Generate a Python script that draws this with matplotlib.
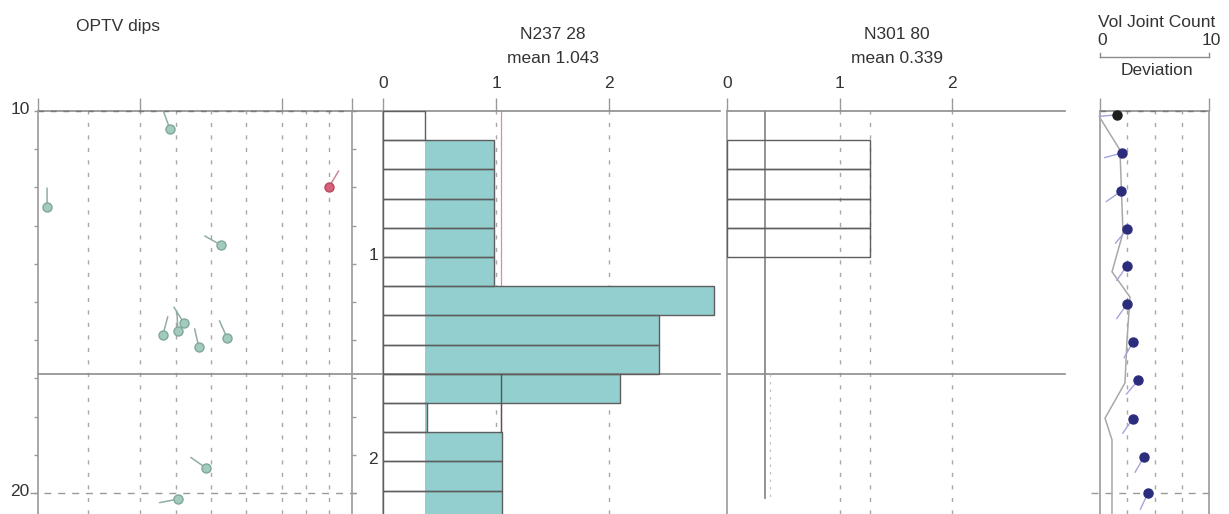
import numpy as np
import matplotlib
matplotlib.use("Agg")
import matplotlib.pyplot as plt
import matplotlib.transforms as mtrans

plt.rcParams["font.family"] = ["Liberation Sans", "DejaVu Sans"]

W, H, DPI = 1229, 514, 100

# ---------------- data ----------------
depth_top = 10.0
depth_bottom = 20.55
depth_ticks = list(range(10, 21))
depth_labels = ["10"] + [""] * 9 + ["20"]

# OPTV dips (tadpoles)
dip_depths = [10.47, 12.51, 11.99, 13.51, 15.86, 15.76, 15.55, 16.18, 15.94, 19.35, 20.16]
dip_angles = [37.8, 2.6, 83.4, 52.5, 35.8, 40.1, 41.8, 46.1, 54.2, 48.2, 40.1]
dip_azimuths = [340, 0, 31, 299, 15, 357, 328, 347, 336, 305, 259]
dip_sets = ["A", "A", "B", "A", "A", "A", "A", "A", "A", "A", "A"]
dip_grid = [14.3, 29.2, 39.6, 49.6, 59.6, 69.9, 76.8, 83.4]
dip_top_ticks = [0, 29.2, 69.9, 90]

# histogram bins
bin_start = 10.0
bin_width = 0.7644
n237_values = [0.37, 0.98, 0.98, 0.98, 0.98, 0.98, 2.93, 2.44, 2.44, 2.10, 0.39, 1.05, 1.05, 1.05]
n237_mean = 1.043
n237_floor = 0.37
n301_values = [0.0, 1.27, 1.27, 1.27, 1.27, 0, 0, 0, 0, 0, 0, 0, 0, 0]
n301_mean = 0.339
n301_max = 1.27
n301_mean_end = 20.13
hist_ticks = [0, 1, 2]
bin_label_edges = [5, 12]
bin_label_text = ["1", "2"]
zone_edge = 9

# Vol joint count / deviation
joint_depths = [10.1, 11.1, 12.1, 13.1, 14.05, 15.05, 16.05, 17.05, 18.05, 19.05, 20.0]
joint_counts = [1.56, 2.0, 1.93, 2.48, 2.48, 2.48, 3.03, 3.49, 3.03, 4.04, 4.4]
joint_azimuths = [265, 255, 235, 220, 215, 215, 210, 220, 215, 210, 205]
dev_depths = [10.18, 11.02, 13.19, 14.21, 14.87, 15.99, 17.12, 18.04, 18.61, 20.55]
dev_values = [0.0, 1.83, 2.11, 1.10, 2.75, 2.48, 2.29, 0.46, 1.10, 1.10]
joint_grid = [2.5, 5, 7.5]

# ---------------- styles ----------------
TXT = "#333333"
SPINE = "#9a9a9a"
HLINE = "#8c8c8c"
GRID = "#a8a8a8"
FILL = "#93cfcf"
EDGE = "#5e5e5e"
DASH = (0, (3, 6))
FS = 12.5

fig = plt.figure(figsize=(W / DPI, H / DPI), dpi=DPI)
fig.patch.set_facecolor("white")

TOP_PX = 111


def px_axes(x0, x1):
    ax = fig.add_axes([x0 / W, 0, (x1 - x0) / W, (H - TOP_PX) / H])
    ax.set_facecolor("none")
    ax.set_ylim(depth_bottom, depth_top)
    for s in ax.spines.values():
        s.set_visible(False)
    ax.tick_params(axis="both", colors=SPINE, labelcolor=TXT, labelsize=FS)
    return ax


def up_shift(labels, px):
    for lab in labels:
        lab.set_transform(lab.get_transform() + mtrans.ScaledTranslation(0, px / DPI, fig.dpi_scale_trans))


edges = bin_start + bin_width * np.arange(len(n237_values) + 1)
centers = edges[:-1] + bin_width / 2
zone_depth = edges[zone_edge]

# ---------------- panel 1: OPTV dips ----------------
ax1 = px_axes(38, 352)
ax1.set_xlim(0, 90)
for sp in ("left", "right"):
    ax1.spines[sp].set_visible(True)
    ax1.spines[sp].set_color(SPINE)
    ax1.spines[sp].set_linewidth(1.2)
ax1.set_yticks(depth_ticks)
ax1.set_yticklabels(depth_labels)
ax1.tick_params(axis="y", left=True, right=True, direction="out", length=3, width=1, pad=3)
up_shift(ax1.get_yticklabels(), 3)
ax1.xaxis.tick_top()
ax1.set_xticks(dip_top_ticks)
ax1.set_xticklabels([])
ax1.tick_params(axis="x", length=9.4, width=1, direction="out")
for g in dip_grid:
    ax1.axvline(g, color=GRID, lw=1, ls=DASH, zorder=1)
ext = (383 - 38) / 314
for d in (depth_top, zone_depth):
    ax1.axhline(d, xmin=0, xmax=ext, color=HLINE, lw=1.2, clip_on=False, zorder=2)
ax1.axhline(depth_top, xmin=0, xmax=1, color="#777777", lw=1, ls=(0, (4, 5)), clip_on=False, zorder=2)
ax1.axhline(20, xmin=-0.025, xmax=1.035, color="#9a9a9a", lw=1, ls=(0, (5, 5)), clip_on=False, zorder=2)

TAIL = 13.5
for d, a, az, s in zip(dip_depths, dip_angles, dip_azimuths, dip_sets):
    if s == "B":
        fc, ec, tc = "#d9607a", "#b84860", "#c88a94"
    else:
        fc, ec, tc = "#a3cbbd", "#7fa898", "#8fae9f"
    dx = TAIL * np.sin(np.radians(az))
    dy = TAIL * np.cos(np.radians(az))
    ax1.annotate("", xy=(a, d), xytext=(dx, dy), textcoords="offset points",
                 arrowprops=dict(arrowstyle="-", color=tc, lw=1.1, shrinkA=0, shrinkB=0),
                 annotation_clip=False, zorder=3)
    ax1.plot([a], [d], "o", ms=6.5, mfc=fc, mec=ec, mew=1, zorder=4, clip_on=False)

fig.text(118 / W, 1 - 31 / H, "OPTV dips", ha="center", va="baseline", fontsize=FS, color=TXT)

# ---------------- panel 2: N237 28 ----------------
ax2 = px_axes(383, 720)
ax2.set_xlim(0, 337 / 113)
ax2.spines["left"].set_visible(True)
ax2.spines["left"].set_color(SPINE)
ax2.spines["left"].set_linewidth(1.2)
ax2.xaxis.tick_top()
ax2.set_xticks(hist_ticks)
ax2.set_xticklabels([str(t) for t in hist_ticks])
ax2.tick_params(axis="x", length=9.4, width=1, direction="out", pad=5)
ax2.set_yticks(edges[bin_label_edges])
ax2.set_yticklabels(bin_label_text)
ax2.tick_params(axis="y", length=0, pad=3.5)
up_shift(ax2.get_yticklabels(), 3)
for g in hist_ticks[1:]:
    ax2.axvline(g, color=GRID, lw=1, ls=DASH, zorder=1)
ax2.axvline(n237_mean, color="#e08a9a", lw=0.9, zorder=1.5)
vals = np.array(n237_values)
ax2.barh(centers, np.clip(vals - n237_floor, 0, None), left=n237_floor, height=bin_width,
         color=FILL, edgecolor="none", zorder=2)
ax2.barh(centers, vals, left=0, height=bin_width, fill=False, edgecolor=EDGE, lw=1, zorder=3)
ax2.plot([n237_mean, n237_mean], [edges[zone_edge], edges[zone_edge + 2]], color="#555555", lw=1, zorder=4)
for d in (depth_top, zone_depth):
    ax2.axhline(d, xmin=0, xmax=1, color=HLINE, lw=1.2, clip_on=False, zorder=2)

fig.text(553 / W, 1 - 39 / H, "N237 28", ha="center", va="baseline", fontsize=FS, color=TXT)
fig.text(553 / W, 1 - 63 / H, "mean 1.043", ha="center", va="baseline", fontsize=FS, color=TXT)

# ---------------- panel 3: N301 80 ----------------
ax3 = px_axes(727, 1065)
ax3.set_xlim(0, 338 / 112.5)
ax3.spines["left"].set_visible(True)
ax3.spines["left"].set_color(SPINE)
ax3.spines["left"].set_linewidth(1.2)
ax3.xaxis.tick_top()
ax3.set_xticks(hist_ticks)
ax3.set_xticklabels([str(t) for t in hist_ticks])
ax3.tick_params(axis="x", length=9.4, width=1, direction="out", pad=5)
ax3.set_yticks([])
for g in hist_ticks[1:] + [n301_max]:
    ax3.axvline(g, color=GRID, lw=1, ls=DASH, zorder=1)
ax3.plot([n301_mean, n301_mean], [depth_top, n301_mean_end], color="#8a8a8a", lw=1.3, zorder=3)
ax3.plot([n301_mean + 0.04, n301_mean + 0.04], [zone_depth, n301_mean_end], color="#c4c4c4",
         lw=0.9, ls=(0, (2, 4)), zorder=3)
vals3 = np.array(n301_values)
nz = vals3 > 0
ax3.barh(centers[nz], vals3[nz], left=0, height=bin_width, fill=False, edgecolor=EDGE, lw=1, zorder=3)
for d in (depth_top, zone_depth):
    ax3.axhline(d, xmin=0, xmax=1, color=HLINE, lw=1.2, clip_on=False, zorder=2)

fig.text(897 / W, 1 - 39 / H, "N301 80", ha="center", va="baseline", fontsize=FS, color=TXT)
fig.text(897 / W, 1 - 63 / H, "mean 0.339", ha="center", va="baseline", fontsize=FS, color=TXT)

# ---------------- panel 4: Vol Joint Count / Deviation ----------------
ax4 = px_axes(1100, 1209)
ax4.set_xlim(0, 10)
for sp in ("left", "right"):
    ax4.spines[sp].set_visible(True)
    ax4.spines[sp].set_color(SPINE)
    ax4.spines[sp].set_linewidth(1.2)
ax4.xaxis.tick_top()
ax4.set_xticks([0, 10])
ax4.set_xticklabels([])
ax4.tick_params(axis="x", length=9.4, width=1, direction="out")
ax4.set_yticks([])
for g in joint_grid:
    ax4.axvline(g, color=GRID, lw=1, ls=DASH, zorder=1)
ax4.axhline(depth_top, color=HLINE, lw=1.2, clip_on=False, zorder=2)
ax4.axhline(depth_top, color="#777777", lw=1, ls=(0, (4, 5)), clip_on=False, zorder=2)
ax4.axhline(20, xmin=-0.08, xmax=1.02, color="#9a9a9a", lw=1, ls=(0, (5, 5)), clip_on=False, zorder=2)
ax4.plot(dev_values, dev_depths, color="#a8a8a8", lw=1.1, zorder=3, clip_on=False)
for d, v, az in zip(joint_depths, joint_counts, joint_azimuths):
    dx = 13 * np.sin(np.radians(az))
    dy = 13 * np.cos(np.radians(az))
    ax4.annotate("", xy=(v, d), xytext=(dx, dy), textcoords="offset points",
                 arrowprops=dict(arrowstyle="-", color="#a4a4dc", lw=1, shrinkA=0, shrinkB=0),
                 annotation_clip=False, zorder=4)
colors4 = ["#1e1e1e"] + ["#2c2c7c"] * (len(joint_depths) - 1)
for d, v, c in zip(joint_depths, joint_counts, colors4):
    ax4.plot([v], [d], "o", ms=6.5, mfc=c, mec=c, zorder=5, clip_on=False)

hdr = ax4.get_xaxis_transform()
yl = (H - 57) / (H - TOP_PX)
yt = (H - 53) / (H - TOP_PX)
ax4.plot([0, 10], [yl, yl], transform=hdr, color="#8a8a8a", lw=1, clip_on=False)
ax4.plot([0, 0], [yl, yt], transform=hdr, color="#8a8a8a", lw=1, clip_on=False)
ax4.plot([10, 10], [yl, yt], transform=hdr, color="#8a8a8a", lw=1, clip_on=False)

fig.text(1157 / W, 1 - 27 / H, "Vol Joint Count", ha="center", va="baseline", fontsize=FS, color=TXT)
fig.text(1102 / W, 1 - 45 / H, "0", ha="center", va="baseline", fontsize=FS, color=TXT)
fig.text(1211 / W, 1 - 45 / H, "10", ha="center", va="baseline", fontsize=FS, color=TXT)
fig.text(1157 / W, 1 - 75 / H, "Deviation", ha="center", va="baseline", fontsize=FS, color=TXT)

fig.savefig("out.png", dpi=DPI, facecolor="white")
